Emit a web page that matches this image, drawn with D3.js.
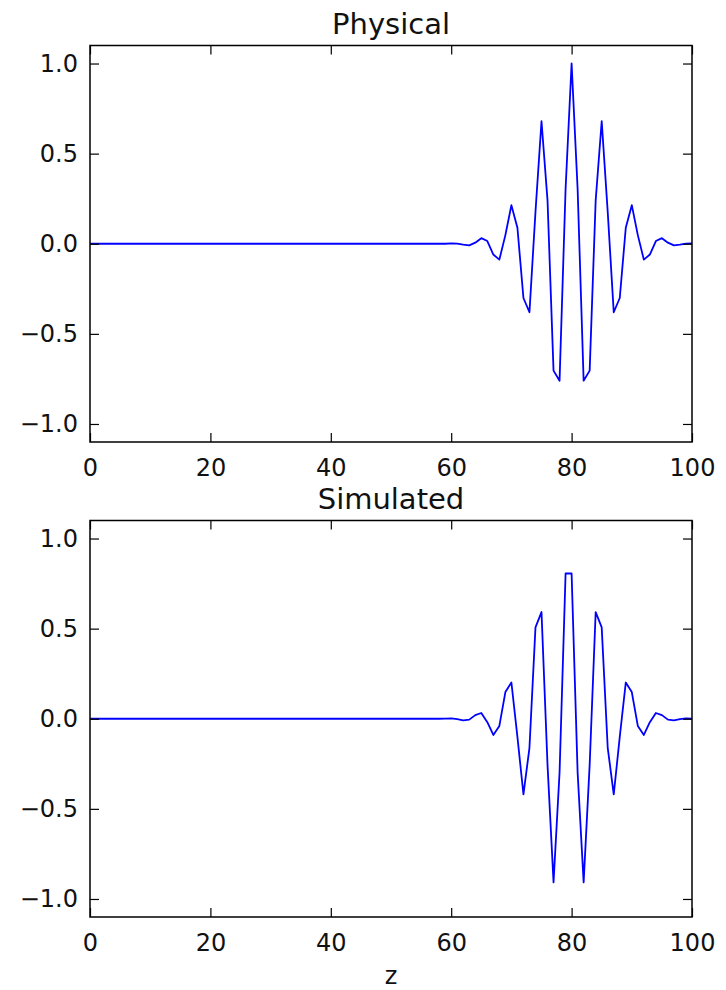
<!DOCTYPE html>
<html>
<head>
<meta charset="utf-8">
<script src="https://cdn.jsdelivr.net/npm/d3@7"></script>
<style>
  body { margin: 0; background: #fff; }
  svg { display: block; font-family: "DejaVu Sans", sans-serif; }
</style>
</head>
<body>
<div id="chart"></div>
<script>
// Paquet d'ondes : physique vs simulé

// Valeurs (z = 0..100, pas de 1)
const zValues = d3.range(0, 101);

const physical = [
  0, 0, 0, 0, 0, 0, 0, 0, 0, 0,
  0, 0, 0, 0, 0, 0, 0, 0, 0, 0,
  0, 0, 0, 0, 0, 0, 0, 0, 0, 0,
  0, 0, 0, 0, 0, 0, 0, 0, 0, 0,
  0, 0, 0, 0, 0, 0, 0, 0, 0, 0,
  0, 0, 0, 0, 0, 0, 0, 0, 0, 0,
  0.002, 0.001, -0.005, -0.009, 0.006, 0.031, 0.015, -0.060, -0.088, 0.048,
  0.214, 0.089, -0.301, -0.380, 0.177, 0.680, 0.241, -0.704, -0.760, 0.304,
  1.000, 0.304, -0.760, -0.704, 0.241, 0.680, 0.177, -0.380, -0.301, 0.089,
  0.214, 0.048, -0.088, -0.060, 0.015, 0.031, 0.006, -0.009, -0.005, 0.001,
  0.002
];

const simulated = [
  0, 0, 0, 0, 0, 0, 0, 0, 0, 0,
  0, 0, 0, 0, 0, 0, 0, 0, 0, 0,
  0, 0, 0, 0, 0, 0, 0, 0, 0, 0,
  0, 0, 0, 0, 0, 0, 0, 0, 0, 0,
  0, 0, 0, 0, 0, 0, 0, 0, 0, 0,
  0, 0, 0, 0, 0, 0, 0, 0, 0, 0.001,
  0.002, -0.002, -0.009, -0.005, 0.020, 0.032, -0.019, -0.090, -0.040, 0.148,
  0.201, -0.101, -0.420, -0.161, 0.507, 0.592, -0.256, -0.908, -0.298, 0.806,
  0.806, -0.298, -0.908, -0.256, 0.592, 0.507, -0.161, -0.420, -0.101, 0.201,
  0.148, -0.040, -0.090, -0.019, 0.032, 0.020, -0.005, -0.009, -0.002, 0.002,
  0.001
];

const xTicks = [0, 20, 40, 60, 80, 100];
const yTicks = [-1.0, -0.5, 0.0, 0.5, 1.0];

const panels = [
  { title: "Physical", values: physical, top: 45.5, bottom: 442 },
  { title: "Simulated", values: simulated, top: 520.5, bottom: 917 }
];

const width = 726;
const height = 990;
const left = 90;
const right = 692;
const tickLen = 9;

const svg = d3.select("#chart")
  .append("svg")
  .attr("width", width)
  .attr("height", height);

const x = d3.scaleLinear().domain([0, 100]).range([left, right]);

panels.forEach(p => {
  const y = d3.scaleLinear().domain([-1.1, 1.1]).range([p.bottom, p.top]);
  const g = svg.append("g");

  // courbe
  const line = d3.line()
    .x((d, i) => x(zValues[i]))
    .y(d => y(d));

  g.append("path")
    .datum(p.values)
    .attr("d", line)
    .attr("fill", "none")
    .attr("stroke", "#0000ff")
    .attr("stroke-width", 1.8)
    .attr("stroke-linejoin", "round");

  // axes (graduations vers l'intérieur, sur les 4 côtés)
  const axB = g.append("g")
    .attr("transform", `translate(0,${p.bottom})`)
    .call(d3.axisBottom(x).tickValues(xTicks).tickSize(-tickLen).tickPadding(12).tickFormat(d3.format("d")));
  const axT = g.append("g")
    .attr("transform", `translate(0,${p.top})`)
    .call(d3.axisTop(x).tickValues(xTicks).tickSize(-tickLen).tickFormat(""));
  const axL = g.append("g")
    .attr("transform", `translate(${left},0)`)
    .call(d3.axisLeft(y).tickValues(yTicks).tickSize(-tickLen).tickPadding(12).tickFormat(d3.format(".1f")));
  const axR = g.append("g")
    .attr("transform", `translate(${right},0)`)
    .call(d3.axisRight(y).tickValues(yTicks).tickSize(-tickLen).tickFormat(""));

  [axB, axT, axL, axR].forEach(a => {
    a.select(".domain").remove();
    a.selectAll(".tick line").attr("stroke", "#000").attr("stroke-width", 1.2);
    a.selectAll(".tick text")
      .attr("fill", "#111")
      .style("font-family", "'DejaVu Sans', sans-serif")
      .style("font-size", "24px");
  });
  axB.selectAll(".tick text").attr("dy", "0.9em");

  // cadre
  g.append("rect")
    .attr("x", left)
    .attr("y", p.top)
    .attr("width", right - left)
    .attr("height", p.bottom - p.top)
    .attr("fill", "none")
    .attr("stroke", "#000")
    .attr("stroke-width", 1.5);

  // titre
  svg.append("text")
    .attr("x", (left + right) / 2)
    .attr("y", p.top - 12)
    .attr("text-anchor", "middle")
    .style("font-size", "29px")
    .attr("fill", "#111")
    .text(p.title);
});

// libellé axe x
svg.append("text")
  .attr("x", (left + right) / 2)
  .attr("y", 984)
  .attr("text-anchor", "middle")
  .style("font-size", "24px")
  .attr("fill", "#111")
  .text("z");
</script>
</body>
</html>
